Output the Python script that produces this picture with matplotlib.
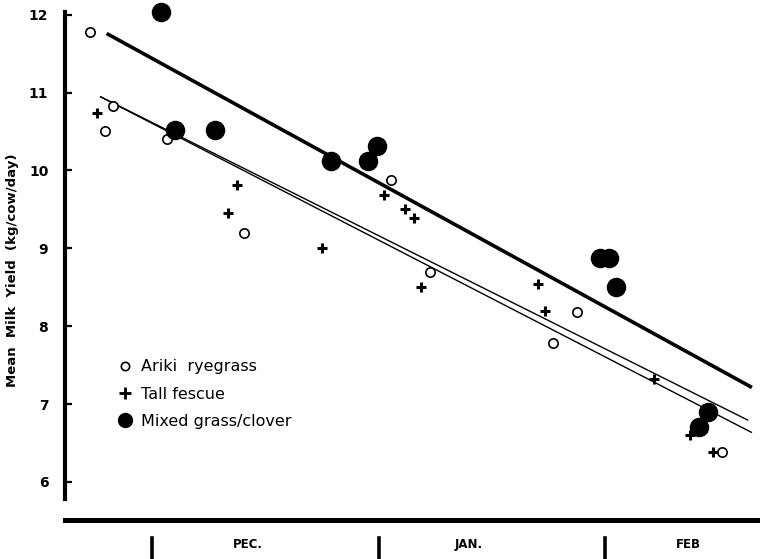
import matplotlib.pyplot as plt
from matplotlib.lines import Line2D
import numpy as np

# days from 1 December
ryegrass_x = [-8.5, -6.4, -5.3, 2.05, 12.6, 32.7, 38.1, 54.9, 58.2, 78.0]
ryegrass_y = [11.78, 10.51, 10.83, 10.41, 9.20, 9.88, 8.70, 7.78, 8.18, 6.38]

fescue_x = [-7.5, 10.4, 11.6, 23.3, 31.8, 34.6, 35.8, 36.8, 52.8, 53.8, 68.7, 73.6, 76.8]
fescue_y = [10.74, 9.45, 9.81, 9.00, 9.69, 9.51, 9.39, 8.50, 8.54, 8.20, 7.32, 6.60, 6.38]

mixed_x = [1.2, 3.1, 8.6, 24.5, 29.6, 30.8, 61.3, 62.6, 63.5, 74.9, 76.1]
mixed_y = [12.04, 10.52, 10.52, 10.12, 10.12, 10.32, 8.88, 8.88, 8.50, 6.70, 6.90]

# fitted regression lines: start day, end day, value at start, slope per day
line_start = [-6.2, -7.1, -7.1]
line_end = [82.1, 81.6, 82.1]
line_y0 = [11.76, 10.95, 10.95]
line_slope = [-0.0515, -0.0469, -0.0484]
line_width = [2.6, 1.0, 1.0]

month_bounds = [0, 31, 62]
month_names = ['PEC.', 'JAN.', 'FEB']
month_label_x = [13.1, 43.3, 73.4]

fig = plt.figure(figsize=(7.6, 5.59), dpi=100)
ax = fig.add_axes([65/760, 39/559, 1 - 65/760, 520/559])

for x0, x1, y0, s, lw in zip(line_start, line_end, line_y0, line_slope, line_width):
    xs = np.array([x0, x1])
    ax.plot(xs, y0 + s * (xs - x0), color='black', lw=lw, solid_capstyle='butt')

ax.scatter(ryegrass_x, ryegrass_y, s=45, facecolors='white', edgecolors='black',
           linewidths=1.2, zorder=3)
ax.scatter(fescue_x, fescue_y, s=60, marker='+', color='black', linewidths=2.2,
           zorder=3)
ax.scatter(mixed_x, mixed_y, s=170, color='black', zorder=3)

ax.set_xlim(-11.9, 83.2)
ax.set_ylim(5.51, 12.19)
ax.set_yticks([6, 7, 8, 9, 10, 11, 12])
ax.set_xticks([])
ax.tick_params(axis='y', direction='in', length=5, width=1.6, pad=12, labelsize=10)
for t in ax.get_yticklabels():
    t.set_fontweight('bold')

ax.spines['top'].set_visible(False)
ax.spines['right'].set_visible(False)
ax.spines['left'].set_linewidth(3.0)
ax.spines['left'].set_bounds(5.78, 12.03)
ax.spines['bottom'].set_linewidth(3.6)

ax.set_ylabel('Mean  Milk  Yield  (kg/cow/day)', fontsize=9.5, fontweight='bold')
ax.yaxis.set_label_coords(-0.066, 0.48)

trans = ax.get_xaxis_transform()
for m in month_bounds:
    ax.plot([m, m], [-0.035, -0.073], transform=trans, color='black', lw=2.6,
            clip_on=False)
for name, mx in zip(month_names, month_label_x):
    ax.text(mx, -0.048, name, transform=trans, ha='center', va='center',
            fontsize=8.5, fontweight='bold')

handles = [
    Line2D([], [], ls='none', marker='o', ms=6, mfc='white', mec='black', mew=1.2),
    Line2D([], [], ls='none', marker='+', ms=8, color='black', mew=2.0),
    Line2D([], [], ls='none', marker='o', ms=10, color='black'),
]
labels = ['Ariki  ryegrass', 'Tall fescue', 'Mixed grass/clover']
ax.legend(handles, labels, loc='upper left', bbox_to_anchor=(0.055, 0.337),
          frameon=False, fontsize=11.5, handlelength=0.9, handletextpad=0.55,
          labelspacing=0.78)

fig.savefig('out.png', dpi=100)
